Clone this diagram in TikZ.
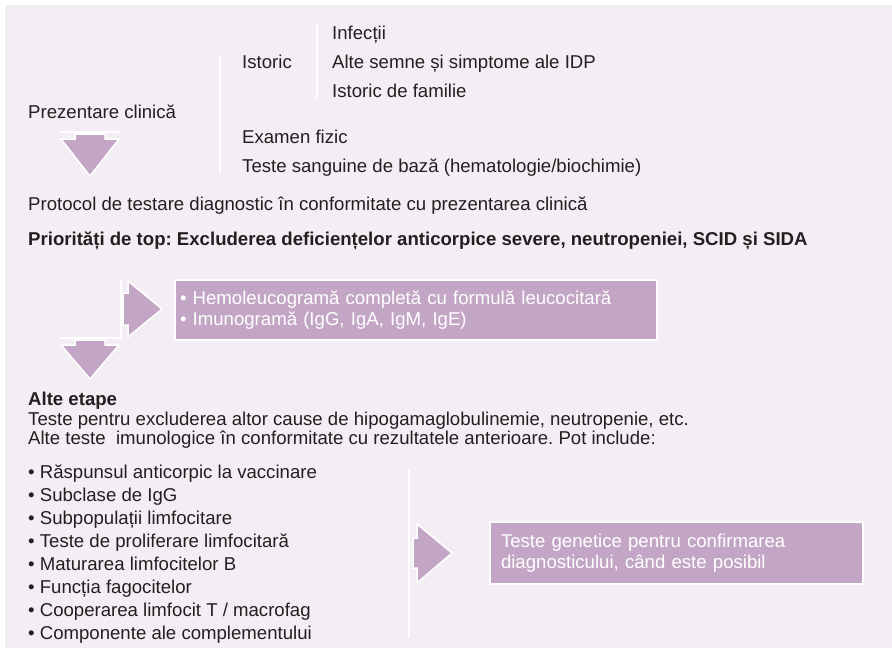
\documentclass[tikz,border=0pt]{standalone}
\usepackage{fontspec}
\setmainfont{Liberation Sans}
\usetikzlibrary{positioning}
\frenchspacing

\definecolor{fundal}{RGB}{243,238,244}
\definecolor{mov}{RGB}{195,166,197}
\definecolor{textgri}{RGB}{35,31,32}

\begin{document}
\begin{tikzpicture}[
    x=1pt, y=-1pt,
    txt/.style={
        anchor=west, inner sep=0pt, text=textgri,
        font=\fontsize{18.6}{21}\selectfont,
        text height=13pt, text depth=1pt
    },
    titlu/.style={
        txt, font=\fontsize{18.6}{21}\selectfont\bfseries
    },
    caseta/.style={
        rectangle, fill=mov, draw=white, line width=2pt,
        text=white, align=left, anchor=north west,
        font=\fontsize{18.6}{21}\selectfont, inner ysep=0pt
    },
    bloc/.style={
        fill=mov, draw=white, line width=1.5pt
    },
    linie/.style={
        draw=white, line width=2.5pt
    }
]

% Fundal
\useasboundingbox (0,0) rectangle (892,648);
\fill[white] (0,0) rectangle (892,648);
\fill[fundal] (5,5) rectangle (892,648);

% Prezentare clinica
\node[txt] (prez) at (28,112) {Prezentare clinică};
\node[txt] (istoric) at (242,62) {Istoric};
\node[txt] (infectii) at (332,33) {Infecții};
\node[txt] (semne) at (332,62) {Alte semne și simptome ale IDP};
\node[txt] (familie) at (332,91) {Istoric de familie};
\node[txt] (examen) at (242,137) {Examen fizic};
\node[txt] (sange) at (242,166) {Teste sanguine de bază (hematologie/biochimie)};

\draw[linie] (220,55) -- (220,173);
\draw[linie] (317,25) -- (317,98);

% Sageata 1 (jos)
\draw[linie, line width=1.5pt] (60,132) -- (120,132);
\draw[bloc] (75,134) -- (105,134) -- (105,139) -- (119,139) -- (90,176)
    -- (61,139) -- (75,139) -- cycle;

% Protocol
\node[txt] (protocol) at (28,204) {Protocol de testare diagnostic în conformitate cu prezentarea clinică};
\node[titlu] (prioritati) at (28,239) {Priorități de top: Excluderea deficiențelor anticorpice severe, neutropeniei, SCID și SIDA};

% Sageata 2 (dreapta) si caseta
\draw[linie, line width=1.5pt] (121,280) -- (121,338) -- (60,338);
\draw[bloc] (123,293) -- (128,293) -- (128,281) -- (162,309) -- (128,337)
    -- (128,325) -- (123,325) -- cycle;
\node[caseta, text width=472pt, inner xsep=5pt, minimum height=60pt] (hemo) at (174,279)
    {• Hemoleucogramă completă cu formulă leucocitară\\• Imunogramă (IgG, IgA, IgM, IgE)};

% Sageata 3 (jos)
\draw[bloc] (75,340) -- (105,340) -- (105,345) -- (119,345) -- (90,379)
    -- (61,345) -- (75,345) -- cycle;

% Alte etape
\node[titlu] (etape) at (28,399) {Alte etape};
\node[txt] (excludere) at (28,419) {Teste pentru excluderea altor cause de hipogamaglobulinemie, neutropenie, etc.};
\node[txt] (alteteste) at (28,438) {Alte teste\ \ imunologice în conformitate cu rezultatele anterioare. Pot include:};

\node[txt] (b1) at (28,472) {• Răspunsul anticorpic la vaccinare};
\node[txt, below=8.6pt of b1.south west, anchor=north west] (b2) {• Subclase de IgG};
\node[txt, below=8.6pt of b2.south west, anchor=north west] (b3) {• Subpopulații limfocitare};
\node[txt, below=8.6pt of b3.south west, anchor=north west] (b4) {• Teste de proliferare limfocitară};
\node[txt, below=8.6pt of b4.south west, anchor=north west] (b5) {• Maturarea limfocitelor B};
\node[txt, below=8.6pt of b5.south west, anchor=north west] (b6) {• Funcția fagocitelor};
\node[txt, below=8.6pt of b6.south west, anchor=north west] (b7) {• Cooperarea limfocit T / macrofag};
\node[txt, below=8.6pt of b7.south west, anchor=north west] (b8) {• Componente ale complementului};

% Sageata 4 (dreapta) si teste genetice
\draw[linie] (409,470) -- (409,638);
\draw[bloc] (413,538) -- (417,538) -- (417,524) -- (452,553) -- (417,583)
    -- (417,568) -- (413,568) -- cycle;
\node[caseta, text width=351pt, inner xsep=11pt, minimum height=62pt] (genetic) at (489,521)
    {Teste genetice pentru confirmarea\\diagnosticului, când este posibil};

\end{tikzpicture}
\end{document}
